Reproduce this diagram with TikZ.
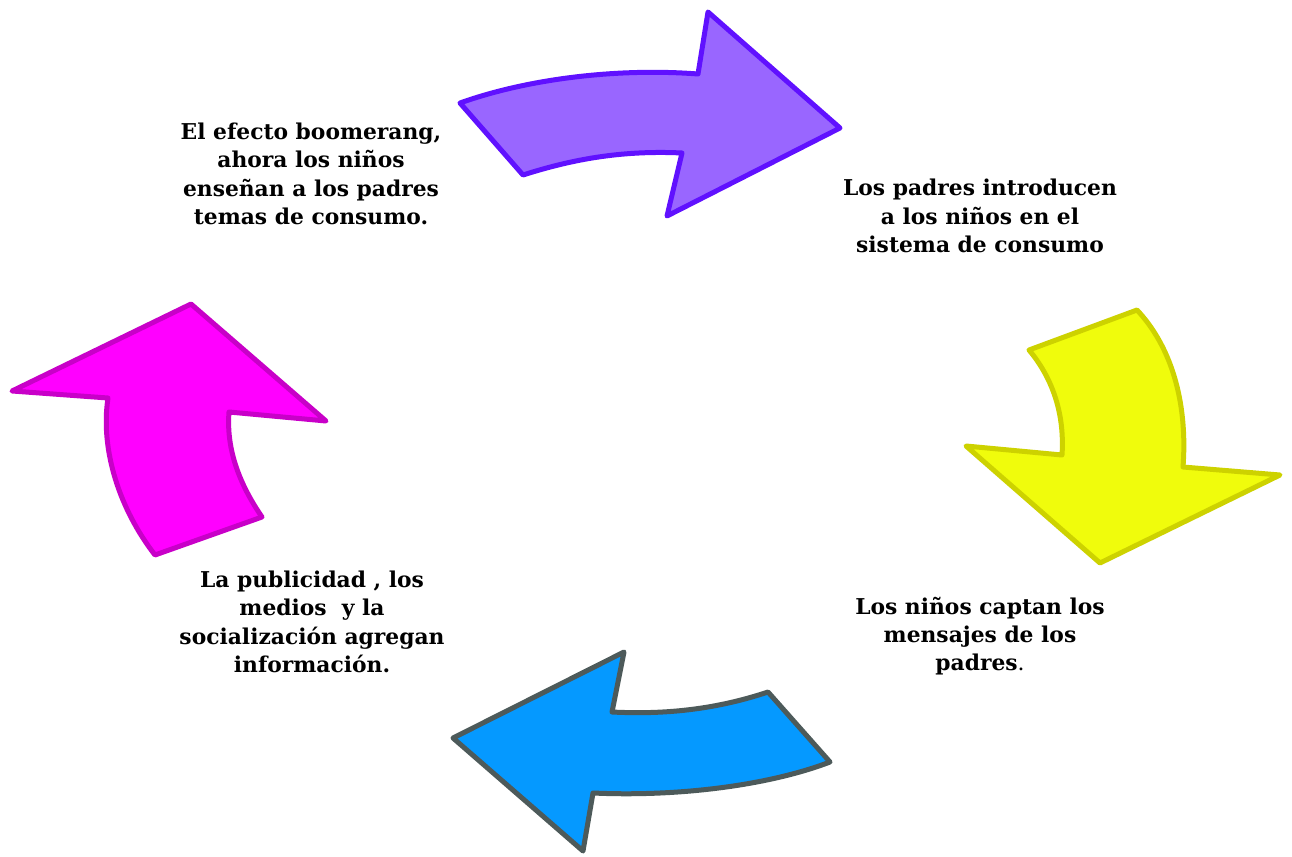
\documentclass[tikz,border=0pt]{standalone}
\usepackage{fontspec}
\setmainfont{DejaVu Serif}
\begin{document}
\begin{tikzpicture}[x=1pt,y=-1pt,
  lbl/.style={align=center,font=\fontsize{21.8}{28.3}\selectfont\bfseries,inner sep=0pt},
  arr/.style={line width=5pt,line join=round}]
\definecolor{pfill}{HTML}{9966FF}\definecolor{pline}{HTML}{6011FF}
\definecolor{yfill}{HTML}{F0FC0C}\definecolor{yline}{HTML}{CDD200}
\definecolor{bfill}{HTML}{0599FF}\definecolor{bline}{HTML}{4D5A5A}
\definecolor{mfill}{HTML}{FF00FF}\definecolor{mline}{HTML}{C800C8}
\useasboundingbox (0,0) rectangle (1292,856);
% purple arrow
\draw[arr,draw=pline,fill=pfill] (460,103) .. controls (530,78) and (620,68) .. (698,74)
  -- (708,12) -- (840,128) -- (667,216) -- (682,153)
  .. controls (620,150) and (570,160) .. (523,175) -- cycle;
% yellow arrow
\draw[arr,draw=yline,fill=yfill] (1137,310) -- (1029,350)
  .. controls (1050,375) and (1065,410) .. (1062,455)
  -- (966,446) -- (1100,563) -- (1280,475) -- (1183,467)
  .. controls (1188,400) and (1170,345) .. (1137,310) -- cycle;
% blue arrow
\draw[arr,draw=bline,fill=bfill] (768,692) -- (830,762)
  .. controls (770,785) and (680,797) .. (593,793)
  -- (583,851) -- (453,738) -- (624,652) -- (612,712)
  .. controls (670,715) and (720,708) .. (768,692) -- cycle;
% magenta arrow
\draw[arr,draw=mline,fill=mfill] (155,555) -- (262,517)
  .. controls (240,485) and (226,450) .. (229,412)
  -- (326,421) -- (191,304) -- (12,391) -- (108,398)
  .. controls (100,450) and (120,510) .. (155,555) -- cycle;
% labels
\node[lbl] (t1) at (311,174) {El efecto boomerang,\\ahora los niños\\enseñan a los padres\\temas de consumo.};
\node[lbl] (t2) at (980,216) {Los padres introducen\\a los niños en el\\sistema de consumo};
\node[lbl] (t3) at (980,636) {Los niños captan los\\mensajes de los\\padres{\mdseries .}};
\node[lbl] (t4) at (312,622) {La publicidad , los\\medios\ \ y la\\socialización agregan\\información.};
\end{tikzpicture}
\end{document}
